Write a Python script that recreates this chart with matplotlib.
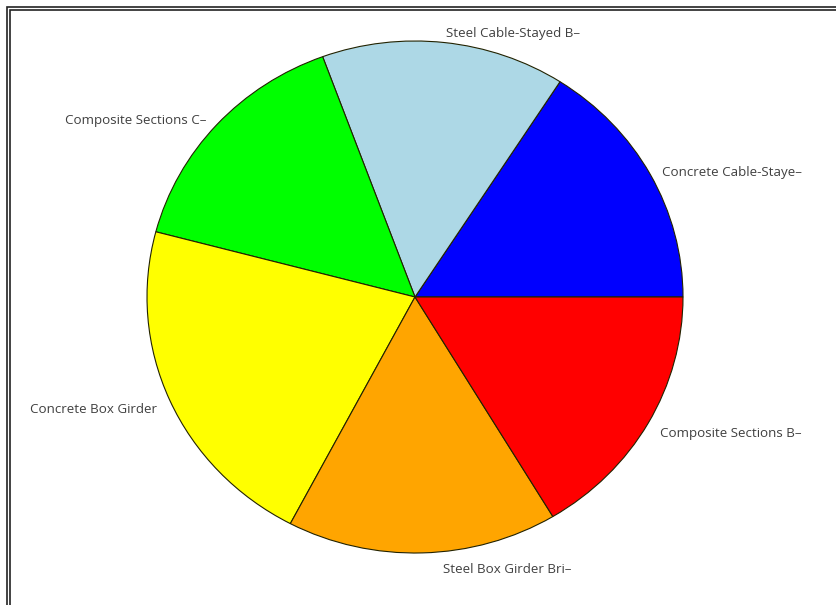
import matplotlib.pyplot as plt
from matplotlib.patches import Rectangle
from matplotlib.transforms import offset_copy

labels = ['Concrete Cable-Staye–', 'Steel Cable-Stayed B–', 'Composite Sections C–',
          'Concrete Box Girder', 'Steel Box Girder Bri–', 'Composite Sections B–']
values = [15.9, 14.7, 15.3, 21.4, 16.3, 16.4]
colors = ['#0000FF', '#ADD8E6', '#00FF00', '#FFFF00', '#FFA500', '#FF0000']

W, H = 837, 605
fig = plt.figure(figsize=(W / 100, H / 100), dpi=100)

# pie is slightly squashed vertically in the reference
cx, cy, rx, ry = 415, 297, 268, 256
ax = fig.add_axes([(cx - rx) / W, (H - cy - ry) / H, 2 * rx / W, 2 * ry / H])
wedges, texts = ax.pie(values, labels=labels, colors=colors, startangle=0,
                       counterclock=True, labeldistance=1.05,
                       wedgeprops=dict(edgecolor='#222200', linewidth=0.8),
                       textprops=dict(fontsize=9.6, color='#404040', family='Open Sans'))
ax.set_aspect('auto')
ax.set_xlim(-1, 1)
ax.set_ylim(-1, 1)
ax.axis('off')

# labels sit a little lower in the reference; bottom one is nudged right
for i, t in enumerate(texts):
    dx = 20 if i == 4 else 0
    t.set_transform(offset_copy(t.get_transform(), fig=fig, x=dx, y=-4, units='dots'))

# double frame round the image (only top and left visible)
for off in (7, 10):
    fig.add_artist(Rectangle((off / W, -0.1), 1.2, 1.1 - off / H,
                             transform=fig.transFigure, fill=False,
                             edgecolor='#222222', linewidth=1.2))

fig.savefig('out.png', dpi=100)
